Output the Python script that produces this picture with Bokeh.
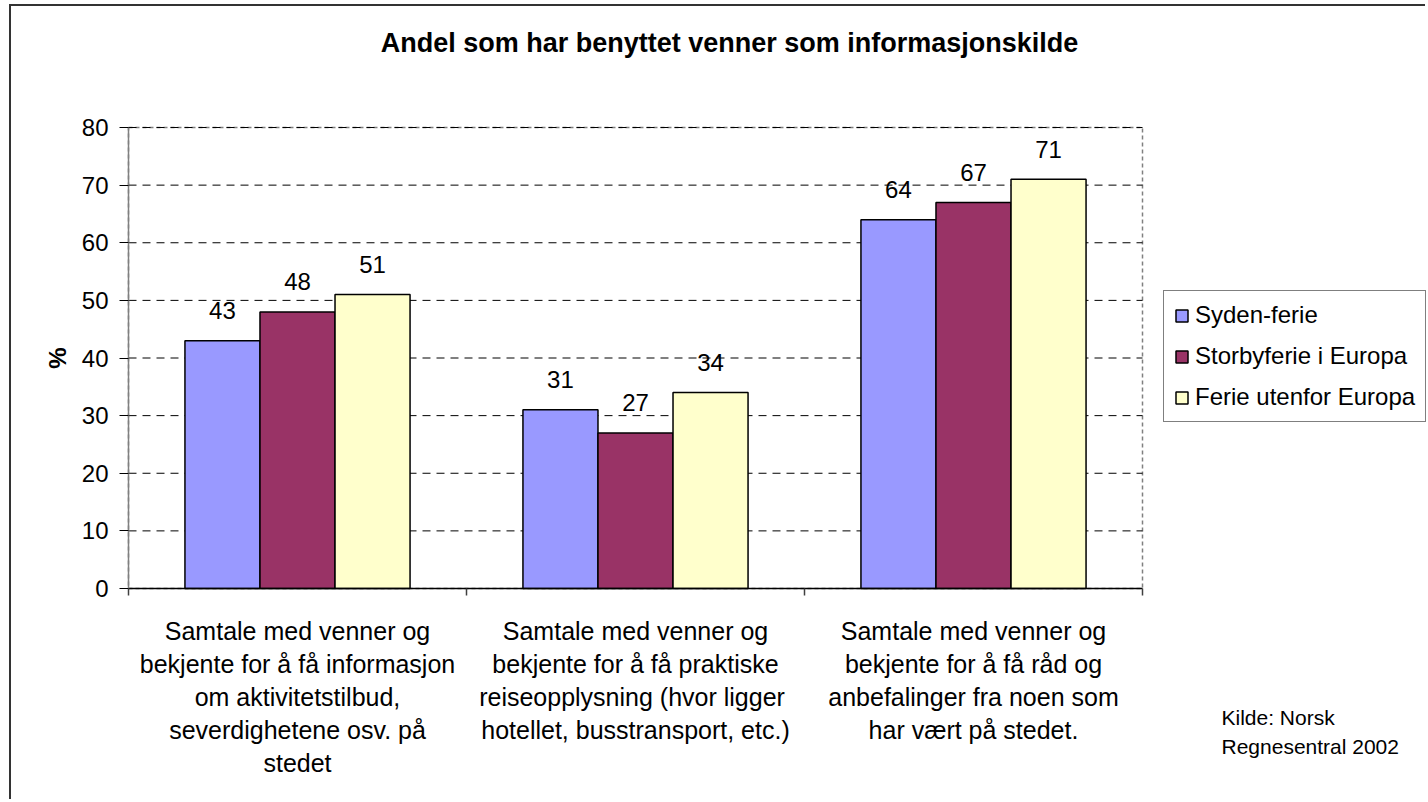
from bokeh.plotting import figure
from bokeh.models import (Range1d, LinearAxis, FixedTicker, Legend, LegendItem,
                          ColumnDataSource, Label)
from bokeh.transform import dodge
from bokeh.embed import file_html
from bokeh.resources import INLINE
from bokeh.core.properties import value

# ---------------- data ----------------
categories = [
    "Samtale med venner og\nbekjente for å få informasjon\nom aktivitetstilbud,\nseverdighetene osv. på\nstedet",
    "Samtale med venner og\nbekjente for å få praktiske\nreiseopplysning  (hvor ligger\nhotellet, busstransport, etc.)",
    "Samtale med venner og\nbekjente for å få råd og\nanbefalinger fra noen som\nhar vært på stedet.",
]
series_names = ["Syden-ferie", "Storbyferie i Europa", "Ferie utenfor Europa"]
syden = [43, 31, 64]
storby = [48, 27, 67]
utenfor = [51, 34, 71]
y_ticks = [0, 10, 20, 30, 40, 50, 60, 70, 80]
title_text = "Andel som har benyttet venner som informasjonskilde"
y_label = "%"
source_lines = ["Kilde: Norsk", "Regnesentral 2002"]

# ---------------- layout (page pixels) ----------------
FONT = "Liberation Sans"
W, H = 1416, 795            # canvas size
CANVAS_L, CANVAS_T = 11, 6  # canvas origin on page
PLOT_L, PLOT_R = 128, 1142  # plot area on page
PLOT_T, PLOT_B = 127, 588

n_cat = len(categories)
y_top = y_ticks[-1]
ppx = (PLOT_R - PLOT_L) / n_cat
ppy = (PLOT_B - PLOT_T) / y_top
X_MIN = (CANVAS_L - PLOT_L) / ppx
X_MAX = (CANVAS_L + W - PLOT_L) / ppx
Y_MAX = (PLOT_B - CANVAS_T) / ppy
Y_MIN = -(CANVAS_T + H - PLOT_B) / ppy


def dx(px):
    return (px - PLOT_L) / ppx


def dy(py):
    return (PLOT_B - py) / ppy


colors = ["#9999FF", "#993366", "#FFFFCC"]
keys = ["syden", "storby", "utenfor"]
BAR_W = 0.222
offsets = [-BAR_W, 0.0, BAR_W]

centers = [i + 0.5 for i in range(n_cat)]
boundaries = [float(i) for i in range(n_cat + 1)]

src = ColumnDataSource(dict(
    xc=centers,
    syden=syden, storby=storby, utenfor=utenfor,
    syden_t=[str(v) for v in syden],
    storby_t=[str(v) for v in storby],
    utenfor_t=[str(v) for v in utenfor],
))

p = figure(width=W, height=H,
           x_range=Range1d(X_MIN, X_MAX), y_range=Range1d(Y_MIN, Y_MAX),
           output_backend="svg", toolbar_location=None,
           x_axis_location=None, y_axis_location="left",
           min_border=0, min_border_left=0, min_border_right=0,
           min_border_top=0, min_border_bottom=0)
p.styles = {"margin-left": "9px", "margin-top": "4px",
            "border-left": "2px solid #333333", "border-top": "2px solid #333333"}
p.background_fill_color = "white"
p.border_fill_color = "white"
p.outline_line_color = None
p.xgrid.visible = False
p.ygrid.visible = False

# plot-area border and grid lines
p.quad(left=0, right=n_cat, bottom=0, top=y_top, fill_color=None,
       line_color="#808080", line_dash="4 3", line_width=1.5)
p.segment(x0=0, x1=n_cat, y0=y_ticks[1:], y1=y_ticks[1:],
          line_color="black", line_dash="8 6", line_width=1)

# category axis (labels at centres, boundary ticks as minor ticks)
cat_axis = LinearAxis(fixed_location=0, bounds=(0, n_cat),
                      ticker=FixedTicker(ticks=centers, minor_ticks=boundaries),
                      major_label_overrides={c: lab for c, lab in zip(centers, categories)},
                      axis_line_color="black", axis_line_width=1.5,
                      major_tick_line_color=None, major_tick_out=0, major_tick_in=0,
                      minor_tick_line_color="#404040", minor_tick_out=7, minor_tick_in=0,
                      minor_tick_line_width=1.5,
                      major_label_text_font=FONT, major_label_text_font_size="25px",
                      major_label_text_color="black", major_label_standoff=21,
                      major_label_text_line_height=1.18)
p.add_layout(cat_axis, "below")

yax = p.yaxis[0]
yax.fixed_location = 0
yax.bounds = (0, y_top)
yax.ticker = FixedTicker(ticks=y_ticks)
yax.major_label_text_font = FONT
yax.major_label_text_font_size = "24px"
yax.major_label_text_color = "black"
yax.major_label_standoff = 11
yax.major_tick_out = 9
yax.major_tick_in = 0
yax.major_tick_line_color = "black"
yax.minor_tick_line_color = None
yax.axis_line_color = "#808080"
yax.axis_line_width = 1.5
yax.axis_label = y_label
yax.axis_label_text_font = FONT
yax.axis_label_text_font_size = "24px"
yax.axis_label_text_font_style = "bold"
yax.axis_label_text_color = "black"
yax.axis_label_standoff = 8

renderers = []
for k, off, c in zip(keys, offsets, colors):
    r = p.vbar(x=dodge("xc", off), top=k, width=BAR_W, source=src,
               fill_color=c, line_color="black", line_width=1.5)
    renderers.append(r)
    p.text(x=dodge("xc", off), y=k, text=k + "_t", source=src,
           text_font=value(FONT), text_font_size="24px", text_color="black",
           text_align="center", text_baseline="alphabetic", y_offset=-30)

legend = Legend(items=[LegendItem(label=n, renderers=[r]) for n, r in zip(series_names, renderers)],
                location=(1163 - CANVAS_L, CANVAS_T + H - 422), margin=0,
                padding=10, spacing=13,
                glyph_width=15, glyph_height=15, label_height=28, label_standoff=6,
                label_text_font=FONT, label_text_font_size="24px", label_text_color="black",
                border_line_color="black", border_line_width=1,
                background_fill_color="white", background_fill_alpha=1)
p.add_layout(legend)

p.add_layout(Label(x=dx(729), y=dy(42), text=title_text,
                   text_font=FONT, text_font_size="27px", text_font_style="bold",
                   text_color="black", text_align="center", text_baseline="alphabetic"))
for txt, py in zip(source_lines, [716.5, 745.5]):
    p.add_layout(Label(x=dx(1221), y=dy(py), text=txt,
                       text_font=FONT, text_font_size="21px", text_color="black",
                       text_align="left", text_baseline="alphabetic"))

open("out.html", "w").write(file_html(p, INLINE))
